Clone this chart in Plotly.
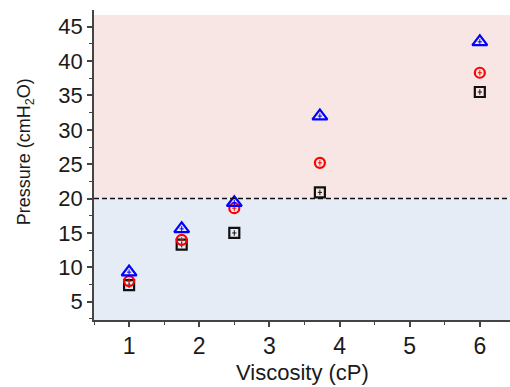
import plotly.graph_objects as go

# Data
viscosity = [1.0, 1.75, 2.5, 3.72, 6.0]
pressure_square = [7.4, 13.3, 15.0, 20.9, 35.5]
pressure_circle = [8.0, 14.0, 18.6, 25.2, 38.3]
pressure_triangle = [9.3, 15.6, 19.4, 32.0, 42.8]
err_y = [0.4, 0.4, 0.4, 0.4, 0.4]
err_x = [0.03, 0.03, 0.03, 0.03, 0.03]

threshold = 20
x_ticks = [1, 2, 3, 4, 5, 6]
y_ticks = [5, 10, 15, 20, 25, 30, 35, 40, 45]

x_range = [0.5, 6.43]
y_range = [2.34, 47.43]
shade_top = 46.7

fig = go.Figure()

series = [
    (pressure_square, "square-open", "#111111", 10),
    (pressure_circle, "circle-open", "#ff0000", 10),
    (pressure_triangle, "triangle-up-open", "#0000ff", 13),
]
for ys, sym, col, sz in series:
    fig.add_trace(go.Scatter(
        x=viscosity, y=ys, mode="markers",
        marker=dict(symbol=sym, size=sz, color=col, line=dict(width=2.2, color=col)),
        error_y=dict(type="data", array=err_y, color=col, thickness=1, width=0),
        error_x=dict(type="data", array=err_x, color=col, thickness=1, width=0),
        showlegend=False,
    ))

# background regions
fig.add_shape(type="rect", xref="x", yref="y", x0=x_range[0], x1=x_range[1],
              y0=threshold, y1=shade_top, fillcolor="#f7e6e3", line_width=0, layer="below")
fig.add_shape(type="rect", xref="x", yref="y", x0=x_range[0], x1=x_range[1],
              y0=y_range[0], y1=threshold, fillcolor="#e6ecf6", line_width=0, layer="below")
fig.add_shape(type="line", xref="x", yref="y", x0=x_range[0], x1=x_range[1],
              y0=threshold, y1=threshold, line=dict(color="#111111", width=1.5, dash="5px,3px"))

font = "Liberation Sans, Arial, sans-serif"
txt = "#1a1a1a"
fig.add_annotation(text="Viscosity (cP)", xref="paper", yref="paper", x=0.5, y=-0.168,
                   xanchor="center", yanchor="middle", showarrow=False,
                   font=dict(size=22, family=font, color=txt))
fig.add_annotation(text="Pressure (cmH<sub>2</sub>O)", xref="paper", yref="paper", x=-0.163, y=0.542,
                   xanchor="center", yanchor="middle", showarrow=False, textangle=-90,
                   font=dict(size=18, family=font, color=txt))

fig.update_layout(
    width=510, height=387,
    margin=dict(l=94, r=0, t=10, b=67),
    paper_bgcolor="white", plot_bgcolor="white",
    font=dict(family=font, color=txt),
    xaxis=dict(
        range=x_range, tickvals=x_ticks, ticktext=[str(v) for v in x_ticks], automargin=False,
        showgrid=False, zeroline=False, showline=True, linecolor="#444444", linewidth=1.5,
        ticks="outside", ticklen=5, tickwidth=1.5, tickcolor="#444444",
        minor=dict(dtick=0.5, tick0=0, ticks="outside", ticklen=3, tickwidth=1.2, tickcolor="#444444"),
        tickfont=dict(size=23, family=font, color=txt),
    ),
    yaxis=dict(
        range=y_range, tickvals=y_ticks, ticktext=[str(v) for v in y_ticks], automargin=False,
        showgrid=False, zeroline=False, showline=True, linecolor="#444444", linewidth=1.5,
        ticks="outside", ticklen=5, tickwidth=1.5, tickcolor="#444444",
        minor=dict(dtick=2.5, tick0=0, ticks="outside", ticklen=3, tickwidth=1.2, tickcolor="#444444"),
        tickfont=dict(size=22, family=font, color=txt),
    ),
)

fig.write_html("out.html", config={"displayModeBar": False},
               post_script="document.body.style.margin='0';document.body.style.overflow='hidden';")
